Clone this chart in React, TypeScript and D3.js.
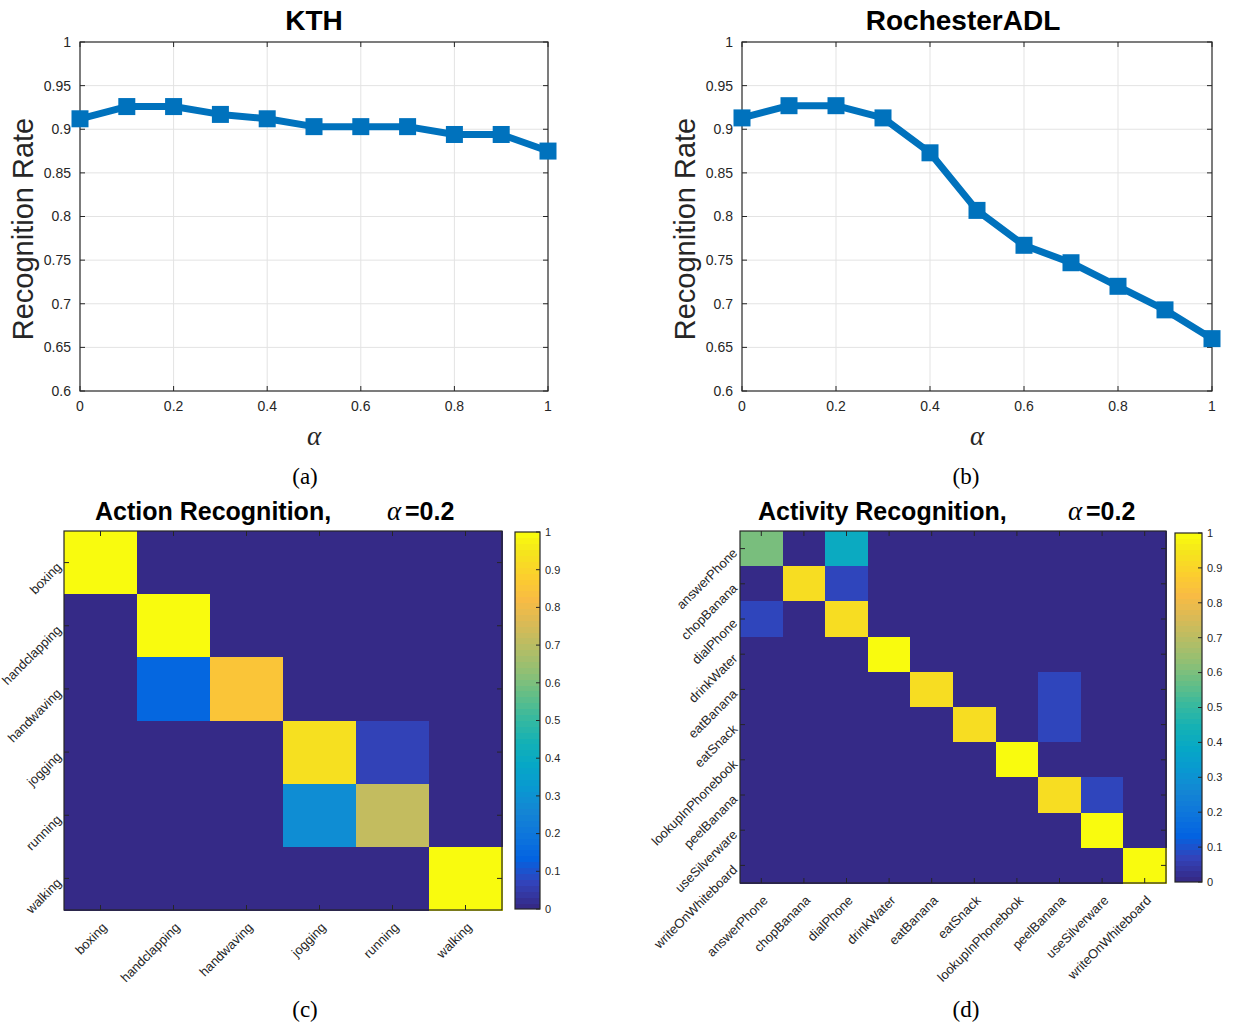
import React, { useEffect, useRef } from 'react';
import * as d3 from 'd3';

const alphas = [0, 0.1, 0.2, 0.3, 0.4, 0.5, 0.6, 0.7, 0.8, 0.9, 1];
const kthRates = [0.912, 0.926, 0.926, 0.917, 0.912, 0.903, 0.903, 0.903, 0.894, 0.894, 0.875];
const adlRates = [0.913, 0.927, 0.927, 0.913, 0.873, 0.807, 0.767, 0.747, 0.72, 0.693, 0.66];
const rateTicks = [0.6, 0.65, 0.7, 0.75, 0.8, 0.85, 0.9, 0.95, 1];
const alphaTicks = [0, 0.2, 0.4, 0.6, 0.8, 1];

const kthActions = ['boxing', 'handclapping', 'handwaving', 'jogging', 'running', 'walking'];
const kthConfusion = [
  [1, 0, 0, 0, 0, 0],
  [0, 1, 0, 0, 0, 0],
  [0, 0.14, 0.86, 0, 0, 0],
  [0, 0, 0, 0.94, 0.06, 0],
  [0, 0, 0, 0.28, 0.72, 0],
  [0, 0, 0, 0, 0, 1],
];

const adlActivities = ['answerPhone', 'chopBanana', 'dialPhone', 'drinkWater', 'eatBanana', 'eatSnack',
  'lookupInPhonebook', 'peelBanana', 'useSilverware', 'writeOnWhiteboard'];
const adlConfusion = [
  [0.6, 0, 0.4, 0, 0, 0, 0, 0, 0, 0],
  [0, 0.933, 0.067, 0, 0, 0, 0, 0, 0, 0],
  [0.067, 0, 0.933, 0, 0, 0, 0, 0, 0, 0],
  [0, 0, 0, 1, 0, 0, 0, 0, 0, 0],
  [0, 0, 0, 0, 0.933, 0, 0, 0.067, 0, 0],
  [0, 0, 0, 0, 0, 0.933, 0, 0.067, 0, 0],
  [0, 0, 0, 0, 0, 0, 1, 0, 0, 0],
  [0, 0, 0, 0, 0, 0, 0, 0.933, 0.067, 0],
  [0, 0, 0, 0, 0, 0, 0, 0, 1, 0],
  [0, 0, 0, 0, 0, 0, 0, 0, 0, 1],
];
const colorbarTicks = [0, 0.1, 0.2, 0.3, 0.4, 0.5, 0.6, 0.7, 0.8, 0.9, 1];

// parula colormap stops
const parulaHex = ['#352a87', '#3243ba', '#0363e1', '#0d75dc', '#1485d4', '#0998d1', '#06a7c6', '#15b1b4',
  '#38b99e', '#65be86', '#92bf73', '#b7bd64', '#d9ba56', '#f8bb44', '#fcce2e', '#f5e41d', '#f9fb0e'];
const parulaPos = parulaHex.map((_, i) => Math.min(i * 4, 63) / 63);
const parula = d3.scaleLinear<string>().domain(parulaPos).range(parulaHex).interpolate(d3.interpolateRgb).clamp(true);

const SANS = '"Liberation Sans", Arial, Helvetica, sans-serif';
const SERIF = '"Liberation Serif", "Times New Roman", serif';
const AX = '#262626';

const W = 1233;
const H = 1028;

type Sel = d3.Selection<SVGSVGElement, unknown, null, undefined>;

function drawLinePlot(svg: Sel, o: any) {
  const x = d3.scaleLinear().domain([0, 1]).range([o.left, o.right]);
  const y = d3.scaleLinear().domain([0.6, 1]).range([o.bottom, o.top]);
  const g = svg.append('g');

  // grid
  g.selectAll(null).data(alphaTicks.slice(1, -1)).enter().append('line')
    .attr('x1', d => x(d)).attr('x2', d => x(d)).attr('y1', o.top).attr('y2', o.bottom)
    .attr('stroke', '#e3e3e3').attr('stroke-width', 1);
  g.selectAll(null).data(rateTicks.slice(1, -1)).enter().append('line')
    .attr('x1', o.left).attr('x2', o.right).attr('y1', d => y(d)).attr('y2', d => y(d))
    .attr('stroke', '#e3e3e3').attr('stroke-width', 1);

  // inward ticks on all sides
  const tl = 5;
  g.selectAll(null).data(alphaTicks).enter().append('path')
    .attr('d', d => `M${x(d)},${o.bottom}v${-tl}M${x(d)},${o.top}v${tl}`)
    .attr('stroke', AX).attr('stroke-width', 1);
  g.selectAll(null).data(rateTicks).enter().append('path')
    .attr('d', d => `M${o.left},${y(d)}h${tl}M${o.right},${y(d)}h${-tl}`)
    .attr('stroke', AX).attr('stroke-width', 1);

  g.append('rect').attr('x', o.left).attr('y', o.top).attr('width', o.right - o.left).attr('height', o.bottom - o.top)
    .attr('fill', 'none').attr('stroke', AX).attr('stroke-width', 1.2);

  // tick labels
  g.selectAll(null).data(alphaTicks).enter().append('text')
    .attr('x', d => x(d)).attr('y', o.bottom + 20).attr('text-anchor', 'middle')
    .attr('fill', AX).style('font-family', SANS).style('font-size', '14px')
    .text(d => d3.format('~g')(d));
  g.selectAll(null).data(rateTicks).enter().append('text')
    .attr('x', o.left - 9).attr('y', d => y(d)).attr('dy', '0.35em').attr('text-anchor', 'end')
    .attr('fill', AX).style('font-family', SANS).style('font-size', '14px')
    .text(d => d3.format('~g')(d));

  // series
  const line = d3.line<number>().x((_, i) => x(alphas[i])).y(d => y(d));
  g.append('path').datum(o.rates).attr('d', line).attr('fill', 'none')
    .attr('stroke', '#0072bd').attr('stroke-width', 7).attr('stroke-linejoin', 'round');
  const ms = 17;
  g.selectAll(null).data(o.rates as number[]).enter().append('rect')
    .attr('x', (_, i) => x(alphas[i]) - ms / 2).attr('y', d => y(d) - ms / 2)
    .attr('width', ms).attr('height', ms).attr('fill', '#0072bd');

  // title and labels
  g.append('text').attr('x', o.titleX).attr('y', 30).attr('text-anchor', 'middle').attr('fill', '#000')
    .style('font-family', SANS).style('font-weight', 'bold').style('font-size', '28px').text(o.title);
  g.append('text').attr('transform', `translate(${o.left - 47},229) rotate(-90)`)
    .attr('text-anchor', 'middle').attr('fill', AX)
    .style('font-family', SANS).style('font-size', '29px').text('Recognition Rate');
  g.append('text').attr('x', o.alphaX).attr('y', 445).attr('text-anchor', 'middle').attr('fill', AX)
    .style('font-family', SERIF).style('font-style', 'italic').style('font-size', '27px').text('α');
  g.append('text').attr('x', o.captionX).attr('y', 484).attr('text-anchor', 'middle').attr('fill', '#000')
    .style('font-family', SERIF).style('font-size', '23px').text(o.caption);
}

function drawMatrix(svg: Sel, o: any) {
  const labels: string[] = o.labels;
  const m: number[][] = o.matrix;
  const x = d3.scaleBand<string>().domain(labels).range([o.left, o.right]);
  const y = d3.scaleBand<string>().domain(labels).range([o.top, o.bottom]);
  const g = svg.append('g');

  const cells = m.flatMap((row, r) => row.map((v, c) => ({ r: labels[r], c: labels[c], v })));
  g.selectAll(null).data(cells).enter().append('rect')
    .attr('x', d => x(d.c)!).attr('y', d => y(d.r)!)
    .attr('width', x.bandwidth() + 0.5).attr('height', y.bandwidth() + 0.5)
    .attr('fill', d => parula(d.v)).attr('shape-rendering', 'crispEdges');

  const tl = 5;
  g.selectAll(null).data(labels).enter().append('path')
    .attr('d', d => {
      const cx = x(d)! + x.bandwidth() / 2;
      const cy = y(d)! + y.bandwidth() / 2;
      return `M${cx},${o.top}v${tl}M${cx},${o.bottom}v${-tl}M${o.left},${cy}h${tl}M${o.right},${cy}h${-tl}`;
    })
    .attr('stroke', AX).attr('stroke-width', 1);
  g.append('rect').attr('x', o.left).attr('y', o.top).attr('width', o.right - o.left).attr('height', o.bottom - o.top)
    .attr('fill', 'none').attr('stroke', AX).attr('stroke-width', 1.2);

  g.selectAll(null).data(labels).enter().append('text')
    .attr('transform', d => `translate(${o.left - 5},${y(d)! + y.bandwidth() / 2 + 2}) rotate(-45)`)
    .attr('dy', '0.35em').attr('text-anchor', 'end').attr('fill', AX)
    .style('font-family', SANS).style('font-size', '13px').text(d => d);
  g.selectAll(null).data(labels).enter().append('text')
    .attr('transform', d => `translate(${x(d)! + x.bandwidth() / 2 + 4},${o.bottom + 15}) rotate(-45)`)
    .attr('dy', '0.35em').attr('text-anchor', 'end').attr('fill', AX)
    .style('font-family', SANS).style('font-size', '13px').text(d => d);

  // colorbar
  const cy = d3.scaleLinear().domain([0, 1]).range([o.cbBottom, o.cbTop]);
  const n = 64;
  const band = (o.cbBottom - o.cbTop) / n;
  g.selectAll(null).data(d3.range(n)).enter().append('rect')
    .attr('x', o.cbLeft).attr('y', i => o.cbBottom - (i + 1) * band)
    .attr('width', o.cbRight - o.cbLeft).attr('height', band + 0.4)
    .attr('fill', i => parula(i / (n - 1))).attr('shape-rendering', 'crispEdges');
  g.append('rect').attr('x', o.cbLeft).attr('y', o.cbTop).attr('width', o.cbRight - o.cbLeft).attr('height', o.cbBottom - o.cbTop)
    .attr('fill', 'none').attr('stroke', AX).attr('stroke-width', 1.2);
  g.selectAll(null).data(colorbarTicks).enter().append('path')
    .attr('d', d => `M${o.cbRight},${cy(d)}h-4`).attr('stroke', AX).attr('stroke-width', 1);
  g.selectAll(null).data(colorbarTicks).enter().append('text')
    .attr('x', o.cbRight + 5).attr('y', d => cy(d)).attr('dy', '0.35em').attr('fill', AX)
    .style('font-family', SANS).style('font-size', '11px').text(d => d3.format('~g')(d));

  // title
  g.append('text').attr('x', o.titleX).attr('y', 520).attr('fill', '#000')
    .style('font-family', SANS).style('font-weight', 'bold').style('font-size', '25px').text(o.title);
  g.append('text').attr('x', o.alphaX).attr('y', 520).attr('fill', '#000')
    .style('font-family', SERIF).style('font-style', 'italic').style('font-size', '27px').text('α');
  g.append('text').attr('x', o.alphaX + 18).attr('y', 520).attr('fill', '#000')
    .style('font-family', SANS).style('font-weight', 'bold').style('font-size', '25px').text('=0.2');
  g.append('text').attr('x', o.captionX).attr('y', 1017).attr('text-anchor', 'middle').attr('fill', '#000')
    .style('font-family', SERIF).style('font-size', '23px').text(o.caption);
}

export default function App() {
  const svgRef = useRef<SVGSVGElement>(null);

  useEffect(() => {
    if (!svgRef.current) return;
    const svg = d3.select(svgRef.current);
    svg.selectAll('*').remove();
    svg.append('rect').attr('width', W).attr('height', H).attr('fill', '#fff');

    drawLinePlot(svg, { left: 80, right: 548, top: 42, bottom: 391, rates: kthRates, title: 'KTH', titleX: 314, alphaX: 314, captionX: 305, caption: '(a)' });
    drawLinePlot(svg, { left: 742, right: 1212, top: 42, bottom: 391, rates: adlRates, title: 'RochesterADL', titleX: 963, alphaX: 977, captionX: 966, caption: '(b)' });

    drawMatrix(svg, {
      left: 64, right: 502, top: 531, bottom: 910, labels: kthActions, matrix: kthConfusion,
      cbLeft: 515, cbRight: 540, cbTop: 532, cbBottom: 909,
      title: 'Action Recognition,', titleX: 95, alphaX: 387, captionX: 305, caption: '(c)',
    });
    drawMatrix(svg, {
      left: 740, right: 1166, top: 531, bottom: 883, labels: adlActivities, matrix: adlConfusion,
      cbLeft: 1175, cbRight: 1202, cbTop: 533, cbBottom: 882,
      title: 'Activity Recognition,', titleX: 758, alphaX: 1068, captionX: 966, caption: '(d)',
    });
  }, []);

  return (
    <svg ref={svgRef} width={W} height={H} viewBox={`0 0 ${W} ${H}`}
      style={{ position: 'absolute', left: 0, top: 0, display: 'block' }} />
  );
}
